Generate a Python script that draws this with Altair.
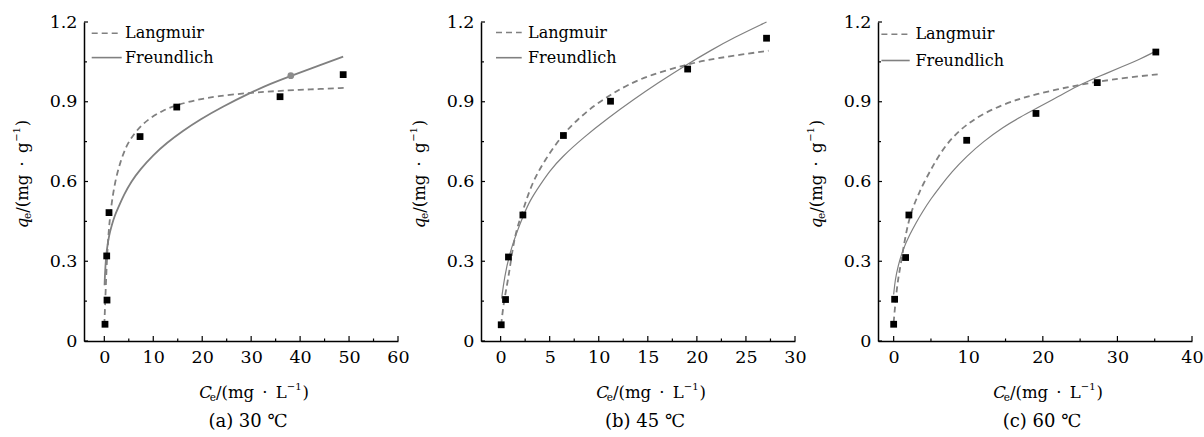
import altair as alt
import pandas as pd

FONT = "DejaVu Serif"
W, H = 314, 319
GRAY = "#808080"

# ---------------- data ----------------
# (a) 30 C
a_c = [0.14, 0.55, 0.49, 0.96, 7.3, 14.8, 35.9, 48.8]
a_q = [0.063, 0.154, 0.32, 0.483, 0.769, 0.880, 0.919, 1.002]
a_lang_c = [0.0, 0.15, 0.4, 0.6, 0.85, 1.1, 1.5, 2.2, 3.2, 4.5, 5.9, 7.5, 9.3, 12.0, 14.8, 19.0, 23.0, 29.8, 35.0, 40.0, 44.0, 48.9]
a_lang_q = [0.06, 0.13, 0.25, 0.33, 0.40, 0.455, 0.52, 0.60, 0.67, 0.735, 0.775, 0.81, 0.838, 0.868, 0.888, 0.908, 0.921, 0.934, 0.94, 0.945, 0.948, 0.952]
a_fr_c = [0.05, 0.2, 0.5, 1.0, 1.5, 2.2, 2.86, 4.0, 5.5, 7.3, 10.0, 12.8, 16.0, 19.6, 24.0, 29.8, 34.0, 38.0, 43.0, 48.8]
a_fr_q = [0.21, 0.28, 0.345, 0.40, 0.435, 0.475, 0.502, 0.55, 0.60, 0.645, 0.70, 0.746, 0.79, 0.834, 0.88, 0.934, 0.968, 0.997, 1.03, 1.07]
a_mark_c = [38.1]
a_mark_q = [0.998]

# (b) 45 C
b_c = [0.06, 0.5, 0.8, 2.27, 6.4, 11.2, 19.06, 27.1]
b_q = [0.061, 0.156, 0.316, 0.474, 0.773, 0.902, 1.023, 1.139]
b_lang_c = [0.05, 0.3, 0.6, 0.92, 1.43, 2.27, 3.16, 4.48, 6.38, 7.9, 9.5, 11.24, 13.0, 15.2, 18.96, 21.0, 23.7, 27.3]
b_lang_q = [0.06, 0.14, 0.2, 0.268, 0.40, 0.49, 0.592, 0.68, 0.78, 0.835, 0.885, 0.927, 0.965, 1.0, 1.04, 1.057, 1.073, 1.092]
b_fr_c = [0.1, 0.4, 0.92, 1.76, 2.27, 3.0, 4.0, 5.0, 6.18, 8.42, 11.0, 13.5, 16.0, 18.96, 21.5, 23.7, 27.1]
b_fr_q = [0.16, 0.242, 0.331, 0.42, 0.468, 0.53, 0.586, 0.64, 0.69, 0.765, 0.84, 0.907, 0.97, 1.04, 1.095, 1.14, 1.2]

# (c) 60 C
c_c = [0.0, 0.13, 1.6, 2.04, 9.79, 19.08, 27.3, 35.15]
c_q = [0.063, 0.157, 0.314, 0.474, 0.755, 0.856, 0.972, 1.087]
c_lang_c = [0.0, 0.27, 0.58, 0.9, 1.48, 2.0, 2.6, 3.3, 3.95, 5.0, 6.2, 7.8, 9.79, 12.0, 14.7, 17.0, 19.08, 22.0, 24.6, 27.5, 30.9, 35.4]
c_lang_q = [0.07, 0.157, 0.232, 0.28, 0.38, 0.45, 0.505, 0.55, 0.59, 0.645, 0.705, 0.765, 0.815, 0.855, 0.89, 0.912, 0.928, 0.947, 0.962, 0.976, 0.99, 1.003]
c_fr_c = [0.0, 0.2, 0.58, 1.25, 2.15, 3.0, 3.95, 5.0, 6.2, 7.8, 9.79, 12.0, 14.7, 17.0, 19.08, 22.0, 24.6, 27.5, 30.9, 33.0, 35.2]
c_fr_q = [0.175, 0.23, 0.282, 0.345, 0.40, 0.445, 0.49, 0.535, 0.58, 0.637, 0.695, 0.75, 0.805, 0.843, 0.874, 0.918, 0.959, 0.995, 1.035, 1.06, 1.091]

y_major = [0, 0.3, 0.6, 0.9, 1.2]
y_minor = [0.15, 0.45, 0.75, 1.05]
series_names = ["Langmuir", "Freundlich"]
captions = ["(a) 30 \u2103", "(b) 45 \u2103", "(c) 60 \u2103"]

# ---------------- helpers ----------------
# approximate DejaVu Serif advance widths (em/1000)
CW = {"C": 730, "e": 592, "/": 337, "(": 390, ")": 390, "m": 948, "g": 640, " ": 318,
      "\u00b7": 318, "L": 637, "\u2212": 838, "1": 636, "q": 640, "\u2002": 500}


def tw(s, size):
    return sum(CW.get(ch, 600) for ch in s) * size / 1000.0


one = pd.DataFrame({"k": [0]})


def rich_text(pieces, x0, y0, angle=0):
    """pieces: list of (text, size, italic, dy, advance_adjust)."""
    layers = []
    off = 0.0
    for text, size, italic, dy, adj in pieces:
        kw = dict(text=text, font=FONT, fontSize=size, align="left", baseline="middle",
                  color="black", dx=off, dy=dy)
        if italic:
            kw["fontStyle"] = "italic"
        if angle:
            kw["angle"] = angle
        layers.append(alt.Chart(one).mark_text(**kw).encode(x=alt.value(x0), y=alt.value(y0)))
        off += tw(text, size) + adj
    return layers


def title_pieces(letter, unit):
    return [
        (letter, 16.5, True, 0, -1.5),
        ("e", 10.5, False, 5, 0),
        ("/(mg\u2002\u00b7\u2002" + unit, 16.5, False, 0, 0.5),
        ("\u22121", 10, False, -6.5, 0.8),
        (")", 16.5, False, 0, 0),
    ]


def panel(sc_c, sc_q, lang_c, lang_q, fr_c, fr_q, xdom, xmajor, xminor, caption,
          leg, solid_w, mark_c=None, mark_q=None):
    xs = alt.Scale(domain=xdom, nice=False, zero=False)
    ys = alt.Scale(domain=[0, 1.2], nice=False, zero=False)
    xaxis = alt.Axis(values=xmajor, ticks=False, tickSize=0, grid=False, title=None,
                     format="d", labelFont=FONT, labelFontSize=17.5, labelColor="black",
                     labelPadding=7, labelFlush=False, labelOverlap=False,
                     domainColor="black", domainWidth=1.5)
    yaxis = alt.Axis(values=y_major, ticks=False, tickSize=0, grid=False, title=None,
                     labelExpr="datum.value == 0 ? '0' : format(datum.value, '.1f')",
                     labelFont=FONT, labelFontSize=17.5, labelColor="black",
                     labelPadding=7, labelFlush=False, labelOverlap=False,
                     domainColor="black", domainWidth=1.5)

    def X():
        return alt.X("C:Q", scale=xs, axis=xaxis)

    def Y():
        return alt.Y("q:Q", scale=ys, axis=yaxis)

    layers = []
    lang = alt.Chart(pd.DataFrame({"C": lang_c, "q": lang_q})).mark_line(
        color=GRAY, strokeWidth=1.8, strokeDash=[6, 4], interpolate="basis"
    ).encode(x=X(), y=Y())
    fr = alt.Chart(pd.DataFrame({"C": fr_c, "q": fr_q})).mark_line(
        color=GRAY, strokeWidth=solid_w, interpolate="basis"
    ).encode(x=X(), y=Y())
    pts = alt.Chart(pd.DataFrame({"C": sc_c, "q": sc_q})).mark_square(
        size=46, color="black", opacity=1
    ).encode(x=X(), y=Y())
    layers += [lang, fr, pts]
    if mark_c:
        layers.append(alt.Chart(pd.DataFrame({"C": mark_c, "q": mark_q})).mark_circle(
            size=45, color="#8c8c8c", opacity=1).encode(x=X(), y=Y()))

    # inward ticks
    layers.append(alt.Chart(pd.DataFrame({"C": xmajor})).mark_rule(color="black", strokeWidth=1.2)
                  .encode(x=X(), y=alt.value(H), y2=alt.value(H - 5)))
    layers.append(alt.Chart(pd.DataFrame({"C": xminor})).mark_rule(color="black", strokeWidth=1.2)
                  .encode(x=X(), y=alt.value(H), y2=alt.value(H - 2.5)))
    layers.append(alt.Chart(pd.DataFrame({"q": y_major})).mark_rule(color="black", strokeWidth=1.2)
                  .encode(y=Y(), x=alt.value(0), x2=alt.value(4)))
    layers.append(alt.Chart(pd.DataFrame({"q": y_minor})).mark_rule(color="black", strokeWidth=1.2)
                  .encode(y=Y(), x=alt.value(0), x2=alt.value(3)))

    # legend
    lx0, lx1, tx, r1, r2 = leg
    layers.append(alt.Chart(one).mark_rule(color=GRAY, strokeWidth=1.6, strokeDash=[6, 4])
                  .encode(x=alt.value(lx0), x2=alt.value(lx1), y=alt.value(r1)))
    layers.append(alt.Chart(one).mark_rule(color=GRAY, strokeWidth=1.6)
                  .encode(x=alt.value(lx0), x2=alt.value(lx1), y=alt.value(r2)))
    for name, ry in zip(series_names, [r1, r2]):
        layers.append(alt.Chart(one).mark_text(text=name, font=FONT, fontSize=16, align="left",
                                               baseline="middle", color="black")
                      .encode(x=alt.value(tx), y=alt.value(ry)))

    # axis titles (italic symbol with subscript)
    xp = title_pieces("C", "L")
    xw = sum(tw(t, s) + a for t, s, _, _, a in xp)
    layers += rich_text(xp, 170 - xw / 2, H + 52)
    yp = title_pieces("q", "g")
    yw = sum(tw(t, s) + a for t, s, _, _, a in yp)
    layers += rich_text(yp, -61, 152 + yw / 2, angle=270)

    # caption
    layers.append(alt.Chart(one).mark_text(text=caption, font=FONT, fontSize=18, align="center",
                                           baseline="middle", color="black")
                  .encode(x=alt.value(164), y=alt.value(H + 81)))

    return alt.layer(*layers).properties(width=W, height=H)


pa = panel(a_c, a_q, a_lang_c, a_lang_q, a_fr_c, a_fr_q, [-4.15, 60],
           [0, 10, 20, 30, 40, 50, 60], [5, 15, 25, 35, 45, 55], captions[0],
           (7.7, 37.7, 41, 11.3, 35.6), 1.8, a_mark_c, a_mark_q)
pb = panel(b_c, b_q, b_lang_c, b_lang_q, b_fr_c, b_fr_q, [-2.0, 30],
           [0, 5, 10, 15, 20, 25, 30], [2.5, 7.5, 12.5, 17.5, 22.5, 27.5], captions[1],
           (15, 40.7, 47, 10.5, 35.7), 1.2)
pc = panel(c_c, c_q, c_lang_c, c_lang_q, c_fr_c, c_fr_q, [-2.1, 40],
           [0, 10, 20, 30, 40], [5, 15, 25, 35], captions[2],
           (3.4, 31.7, 37.4, 12.3, 38.5), 1.2)

chart = alt.hconcat(pa, pb, pc, spacing=83, bounds="flush").properties(
    padding={"left": 11, "top": 13, "right": 0, "bottom": 0}
).configure_view(strokeWidth=0)

chart.save("out.html", embed_options={"renderer": "svg", "actions": False})
